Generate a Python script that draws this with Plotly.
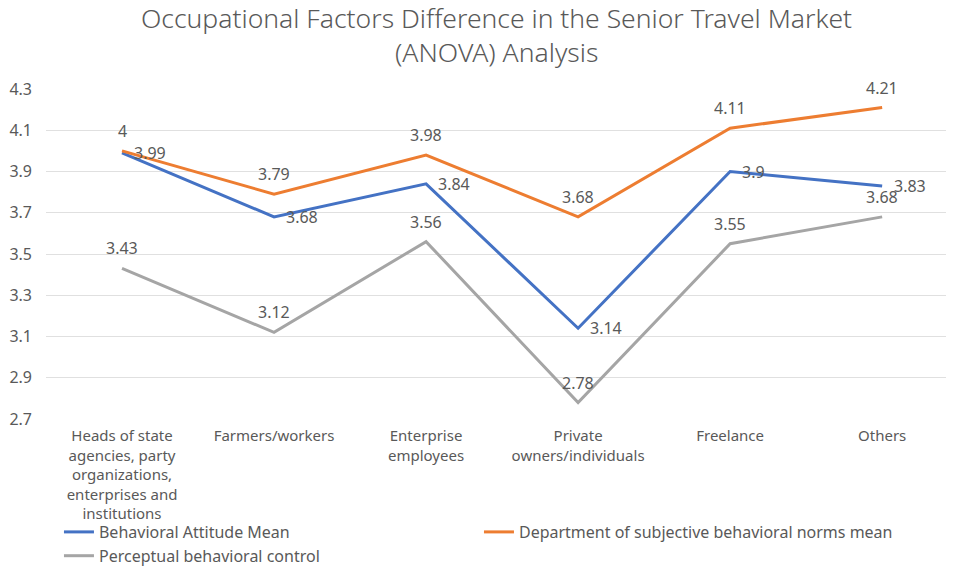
import plotly.graph_objects as go

categories = [
    "Heads of state<br>agencies, party<br>organizations,<br>enterprises and<br>institutions",
    "Farmers/workers",
    "Enterprise<br>employees",
    "Private<br>owners/individuals",
    "Freelance",
    "Others",
]
attitude = [3.99, 3.68, 3.84, 3.14, 3.9, 3.83]
norms = [4.0, 3.79, 3.98, 3.68, 4.11, 4.21]
control = [3.43, 3.12, 3.56, 2.78, 3.55, 3.68]
y_ticks = [2.7, 2.9, 3.1, 3.3, 3.5, 3.7, 3.9, 4.1, 4.3]

names = ["Behavioral Attitude Mean",
         "Department of subjective behavioral norms mean",
         "Perceptual behavioral control"]
colors = ["#4472C4", "#ED7D31", "#A5A5A5"]
series = [attitude, norms, control]
title_lines = ["Occupational Factors Difference in the Senior Travel Market",
               "(ANOVA) Analysis"]

FONT = "Noto Sans"
TXT = "#595959"

x_idx = list(range(len(categories)))
fig = go.Figure()
for name, col, vals in zip(names, colors, series):
    fig.add_trace(go.Scatter(x=x_idx, y=vals, mode="lines", name=name,
                             line=dict(color=col, width=3)))

annotations = []
for i, v in enumerate(attitude):
    annotations.append(dict(x=i, y=v, xref="x", yref="y", text=f"{v:g}", showarrow=False,
                            xanchor="left", yanchor="middle", xshift=10,
                            font=dict(family=FONT, size=16, color=TXT)))
for vals in (norms, control):
    for i, v in enumerate(vals):
        annotations.append(dict(x=i, y=v, xref="x", yref="y", text=f"{v:g}", showarrow=False,
                                xanchor="center", yanchor="middle", yshift=20,
                                font=dict(family=FONT, size=16, color=TXT)))
for line, ypos in zip(title_lines, [1.2152, 1.1121]):
    annotations.append(dict(x=0.5, y=ypos, xref="paper", yref="paper", text=line,
                            showarrow=False, xanchor="center", yanchor="middle",
                            font=dict(family=FONT, size=26.5, color=TXT, weight=300)))

fig.update_layout(
    width=954, height=573,
    margin=dict(l=46, r=8, t=89, b=154),
    paper_bgcolor="white", plot_bgcolor="white",
    xaxis=dict(range=[-0.5, 5.42], tickmode="array", tickvals=x_idx, ticktext=categories,
               showgrid=False, zeroline=False, showline=False, ticks="",
               ticklabelstandoff=6, automargin=False,
               tickfont=dict(family=FONT, size=15, color=TXT), tickangle=0),
    yaxis=dict(range=[2.7, 4.3], tickmode="array", tickvals=y_ticks,
               ticktext=[f"{t:.1f}" for t in y_ticks],
               showgrid=True, gridcolor="#E0E0E0", gridwidth=1, zeroline=False,
               showline=False, ticks="", ticklabelstandoff=13, automargin=False,
               tickfont=dict(family=FONT, size=16, color=TXT)),
    legend=dict(orientation="h", x=0.0144, xanchor="left", yref="container", y=-0.014,
                yanchor="bottom",
                entrywidth=375, entrywidthmode="pixels", bgcolor="rgba(0,0,0,0)",
                font=dict(family=FONT, size=16, color=TXT), itemwidth=30,
                tracegroupgap=0),
    annotations=annotations,
    showlegend=True,
)

fig.write_html("out.html", config={"displayModeBar": False},
               post_script="document.body.style.margin='0px';document.body.style.overflow='hidden';")
